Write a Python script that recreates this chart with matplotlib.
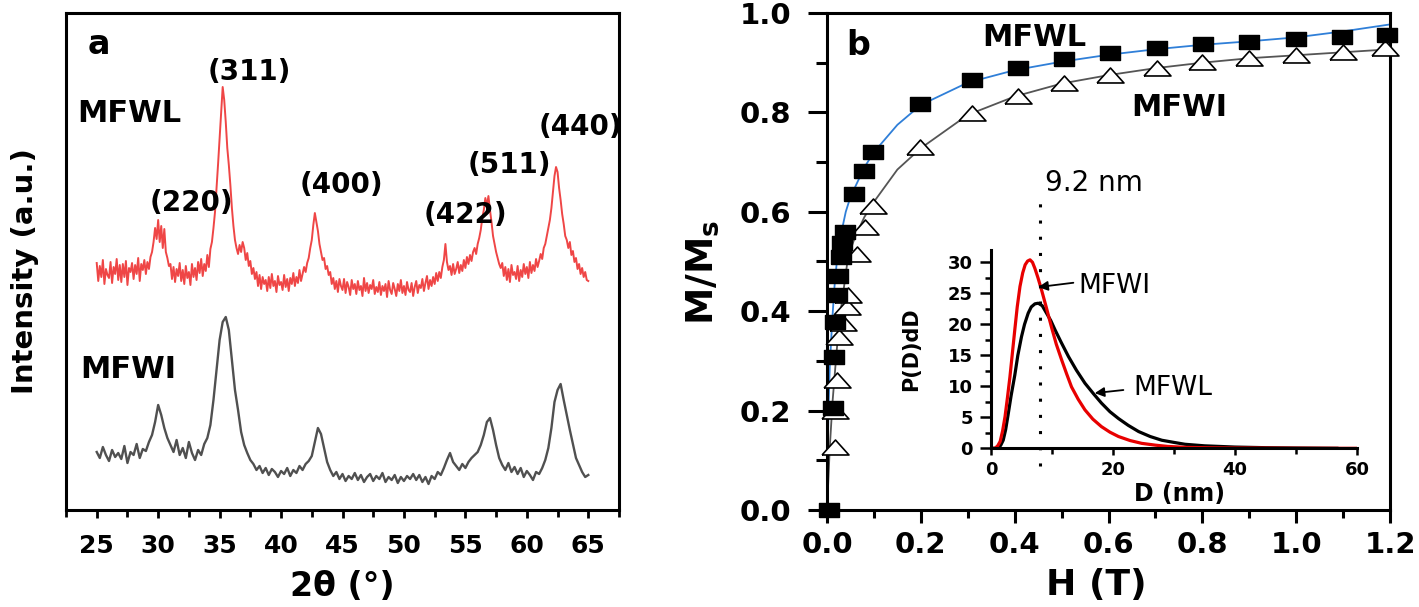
import numpy as np
import matplotlib
matplotlib.use("Agg")
import matplotlib.pyplot as plt
from matplotlib.ticker import MultipleLocator, FormatStrFormatter

plt.rcParams["font.family"] = ["DejaVu Sans"]
plt.rcParams["font.weight"] = "bold"

# ---- panel a: XRD patterns, 25..65 deg ----
two_theta_L = np.arange(25, 65.001, 0.125)   # MFWL sampling
two_theta_I = np.arange(25, 65.001, 0.25)    # MFWI sampling

# MFWL, one row per degree (8 steps of 0.125)
mfwl = [
    247, 229, 244, 233, 250, 226, 241, 235,  # 25
    232, 248, 227, 243, 236, 251, 230, 245,  # 26
    228, 246, 233, 249, 225, 242, 238, 247,  # 27
    231, 245, 236, 252, 229, 246, 240, 250,  # 28
    236, 248, 241, 253, 258, 268, 282, 271,  # 29
    290, 268, 284, 262, 281, 258, 252, 244,  # 30
    246, 231, 243, 228, 241, 234, 247, 229,  # 31
    240, 226, 244, 232, 238, 225, 246, 233,  # 32
    242, 230, 248, 237, 251, 234, 246, 239,  # 33
    255, 243, 261, 268, 282, 298, 322, 346,  # 34
    372, 398, 423, 410, 388, 362, 345, 325,  # 35
    302, 284, 270, 262, 256, 265, 258, 268,  # 36
    262, 250, 257, 244, 249, 236, 242, 231,  # 37
    238, 224, 235, 221, 233, 226, 230, 219,  # 38
    233, 222, 236, 224, 229, 218, 234, 225,  # 39
    228, 220, 235, 223, 231, 219, 232, 226,  # 40
    237, 224, 233, 227, 240, 229, 236, 243,  # 41
    238, 247, 252, 262, 270, 285, 297, 288,  # 42
    279, 266, 258, 250, 252, 241, 244, 235,  # 43
    238, 226, 232, 221, 229, 218, 231, 224,  # 44
    220, 231, 217, 228, 223, 215, 230, 221,  # 45
    226, 216, 229, 220, 224, 214, 232, 219,  # 46
    227, 217, 225, 221, 230, 216, 223, 218,  # 47
    228, 215, 224, 219, 226, 213, 229, 220,  # 48
    216, 227, 221, 214, 226, 219, 230, 217,  # 49
    224, 215, 228, 220, 218, 227, 214, 223,  # 50
    229, 217, 225, 222, 231, 219, 227, 234,  # 51
    221, 230, 224, 233, 226, 237, 229, 238,  # 52
    232, 243, 250, 266, 248, 240, 244, 235,  # 53
    246, 236, 241, 248, 237, 245, 239, 250,  # 54
    242, 253, 246, 255, 249, 258, 262, 256,  # 55
    266, 272, 280, 292, 300, 312, 304, 314,  # 56
    300, 288, 274, 266, 258, 252, 246, 242,  # 57
    247, 234, 243, 230, 241, 228, 245, 235,  # 58
    238, 231, 244, 229, 240, 233, 246, 236,  # 59
    243, 232, 248, 237, 245, 239, 251, 243,  # 60
    249, 256, 251, 262, 266, 274, 282, 290,  # 61
    302, 318, 334, 343, 338, 322, 310, 296,  # 62
    286, 274, 270, 262, 268, 255, 259, 248,  # 63
    252, 241, 246, 236, 242, 233, 238, 230,  # 64
    229,                                     # 65
]

# MFWI, one row per degree (4 steps of 0.25)
mfwi = [
    58, 52, 63, 55,      # 25
    49, 60, 53, 57,      # 26
    51, 64, 47, 58,      # 27
    55, 66, 52, 61,      # 28
    59, 68, 75, 88,      # 29
    105, 95, 82, 72,     # 30
    65, 58, 70, 55,      # 31
    62, 52, 68, 57,      # 32
    50, 60, 55, 66,      # 33
    72, 85, 110, 140,    # 34
    170, 188, 193, 180,  # 35
    150, 120, 100, 78,   # 36
    65, 57, 50, 46,      # 37
    40, 44, 37, 42,      # 38
    35, 41, 38, 33,      # 39
    39, 36, 42, 34,      # 40
    40, 37, 44, 40,      # 41
    46, 49, 54, 68,      # 42
    82, 76, 62, 48,      # 43
    40, 34, 38, 31,      # 44
    36, 29, 34, 31,      # 45
    37, 30, 35, 28,      # 46
    33, 36, 29, 34,      # 47
    31, 37, 28, 33,      # 48
    30, 35, 27, 33,      # 49
    29, 34, 31, 36,      # 50
    30, 35, 28, 33,      # 51
    26, 34, 31, 38,      # 52
    35, 42, 50, 57,      # 53
    48, 44, 40, 46,      # 54
    42, 48, 52, 55,      # 55
    58, 65, 75, 88,      # 56
    92, 80, 65, 52,      # 57
    45, 40, 47, 38,      # 58
    43, 36, 42, 33,      # 59
    39, 35, 30, 38,      # 60
    36, 42, 50, 62,      # 61
    82, 108, 120, 126,   # 62
    110, 95, 80, 66,     # 63
    52, 45, 38, 33,      # 64
    35,                  # 65
]

peak_labels = ["(220)", "(311)", "(400)", "(422)", "(511)", "(440)"]
peak_label_x = [32.7, 37.4, 44.9, 55.0, 58.6, 64.35]
peak_label_y = [307, 438, 325, 295, 345, 383]

# ---- panel b: M/Ms vs H ----
H_L = [0.005, 0.0135, 0.015, 0.017, 0.021, 0.024, 0.030, 0.033, 0.038, 0.058,
       0.078, 0.098, 0.199, 0.308, 0.408, 0.505, 0.603, 0.703, 0.802, 0.90,
       0.999, 1.098, 1.193]
M_L = [0.0, 0.205, 0.308, 0.379, 0.433, 0.471, 0.51, 0.537, 0.56, 0.636,
       0.683, 0.72, 0.817, 0.865, 0.889, 0.907, 0.92, 0.93, 0.938, 0.942,
       0.947, 0.952, 0.956]
H_I = [0.017, 0.016, 0.021, 0.026, 0.035, 0.042, 0.044, 0.063, 0.081, 0.099,
       0.199, 0.308, 0.408, 0.505, 0.603, 0.703, 0.80, 0.90, 1.0, 1.1, 1.19]
M_I = [0.127, 0.2, 0.262, 0.349, 0.377, 0.409, 0.433, 0.515, 0.57, 0.612,
       0.731, 0.798, 0.832, 0.859, 0.875, 0.889, 0.902, 0.909, 0.915, 0.922,
       0.929]

fit_L_H = [0, 0.003, 0.006, 0.011, 0.016, 0.022, 0.031, 0.04, 0.05, 0.067,
           0.08, 0.1, 0.15, 0.2, 0.3, 0.4, 0.5, 0.6, 0.7, 0.8, 0.9, 1.0, 1.1, 1.2]
fit_L_M = [0, 0.2, 0.29, 0.38, 0.45, 0.51, 0.56, 0.6, 0.63, 0.664,
           0.69, 0.72, 0.775, 0.815, 0.86, 0.885, 0.902, 0.916, 0.927, 0.936,
           0.943, 0.951, 0.963, 0.977]
fit_I_H = [0, 0.006, 0.012, 0.018, 0.026, 0.035, 0.045, 0.06, 0.08, 0.1, 0.15,
           0.2, 0.3, 0.4, 0.5, 0.6, 0.7, 0.8, 0.9, 1.0, 1.1, 1.2]
fit_I_M = [0, 0.127, 0.22, 0.29, 0.38, 0.44, 0.51, 0.55, 0.59, 0.62, 0.685,
           0.728, 0.795, 0.832, 0.858, 0.875, 0.889, 0.9, 0.909, 0.915, 0.921,
           0.927]

# ---- inset: size distributions ----
D_L = [0, 1.2, 1.6, 2.0, 2.4, 2.8, 3.3, 3.9, 4.4, 5.0, 5.5, 6.1, 6.6, 7.2,
       7.75, 8.4, 9.1, 9.8, 10.5, 11.5, 12.7, 14.0, 15.4, 16.8, 18.1, 19.5,
       20.9, 22.5, 24.2, 26.1, 28, 30, 31.8, 35, 40, 45, 50, 56.7]
P_L = [0, 0, 0.5, 1.3, 3.0, 5.4, 8.5, 11.8, 15.0, 18.0, 20.0, 21.8, 22.8, 23.3,
       23.4, 23.0, 21.8, 20.6, 19.1, 17.1, 14.8, 12.6, 10.5, 8.8, 7.3, 5.9,
       4.8, 3.7, 2.7, 1.9, 1.3, 0.95, 0.65, 0.4, 0.2, 0.1, 0.05, 0.0]
D_I = [0, 0.66, 1.1, 1.5, 1.9, 2.3, 2.7, 3.1, 3.5, 3.9, 4.3, 4.75, 5.2, 5.6,
       6.0, 6.4, 6.8, 7.2, 7.7, 8.3, 9.1, 9.9, 10.7, 11.6, 12.4, 13.2, 14.3,
       15.4, 16.7, 18.1, 19.5, 20.9, 22.8, 24.7, 27, 29, 32, 36, 40, 50, 60.5]
P_I = [0, 0, 0.4, 1.1, 2.8, 5.1, 8.2, 11.5, 15.3, 19.1, 22.8, 26.1, 28.3, 29.6,
       30.2, 30.4, 30.0, 29.0, 27.5, 25.5, 22.6, 19.6, 16.8, 14.2, 12.0, 9.9,
       7.9, 6.2, 4.7, 3.5, 2.6, 1.9, 1.25, 0.8, 0.5, 0.3, 0.15, 0.08, 0.04,
       0.01, 0]
mode_D = 8.1

W, Hpx = 1419, 607


def box(l, t, r, b):
    return [l / W, 1 - b / Hpx, (r - l) / W, (b - t) / Hpx]


fig = plt.figure(figsize=(W / 100, Hpx / 100), dpi=100)

# panel a
ax_a = fig.add_axes(box(66, 13, 619, 510))
ax_a.plot(two_theta_L, mfwl, color="#ef4646", lw=1.4)
ax_a.plot(two_theta_I, mfwi, color="#505050", lw=1.7)
ax_a.set_xlim(22.5, 67.5)
ax_a.set_ylim(0, 497)
ax_a.set_yticks([])
ax_a.xaxis.set_major_locator(MultipleLocator(5))
ax_a.xaxis.set_minor_locator(MultipleLocator(2.5))
ax_a.tick_params(axis="x", which="both", direction="out", width=2, labelsize=18, pad=11)
ax_a.tick_params(axis="x", which="major", length=6)
ax_a.tick_params(axis="x", which="minor", length=5)
for sp in ax_a.spines.values():
    sp.set_linewidth(2.2)

ax_a.text(25.2, 466, "a", fontsize=24, ha="center", va="center")
ax_a.text(23.45, 397, "MFWL", fontsize=22, ha="left", va="center")
ax_a.text(23.7, 140, "MFWI", fontsize=22, ha="left", va="center")
for lab, x, y in zip(peak_labels, peak_label_x, peak_label_y):
    ax_a.text(x, y, lab, fontsize=20, ha="center", va="center")

fig.text(25 / W, 1 - 271 / Hpx, "Intensity (a.u.)", rotation=90, fontsize=21,
         ha="center", va="center")
fig.text(342 / W, 1 - 587 / Hpx, "2θ (°)", fontsize=24, ha="center", va="center")

# panel b
ax_b = fig.add_axes(box(827, 13, 1390, 510))
ax_b.plot(fit_L_H, fit_L_M, color="#2f7fd8", lw=1.3, zorder=2)
ax_b.plot(fit_I_H, fit_I_M, color="#555555", lw=1.3, zorder=2)
square = [(-1.5, -1), (1.5, -1), (1.5, 1), (-1.5, 1), (-1.5, -1)]
triangle = [(-1.8, -1), (1.8, -1), (0, 1), (-1.8, -1)]
ax_b.plot(H_I, M_I, ls="none", marker=triangle, ms=19.4, mfc="white", mec="k",
          mew=1.2, clip_on=False, zorder=3)
ax_b.plot(H_L, M_L, ls="none", marker=square, ms=14.4, mfc="k", mec="k",
          clip_on=False, zorder=4)
ax_b.set_xlim(0, 1.2)
ax_b.set_ylim(0, 1.0)
ax_b.xaxis.set_major_locator(MultipleLocator(0.2))
ax_b.xaxis.set_minor_locator(MultipleLocator(0.1))
ax_b.yaxis.set_major_locator(MultipleLocator(0.2))
ax_b.yaxis.set_minor_locator(MultipleLocator(0.1))
ax_b.xaxis.set_major_formatter(FormatStrFormatter("%.1f"))
ax_b.yaxis.set_major_formatter(FormatStrFormatter("%.1f"))
ax_b.tick_params(which="both", direction="out", width=2.2, labelsize=21)
ax_b.tick_params(axis="x", which="major", length=9, pad=6)
ax_b.tick_params(axis="x", which="minor", length=6)
ax_b.tick_params(axis="y", which="major", length=14, pad=12)
ax_b.tick_params(axis="y", which="minor", length=8)
for sp in ax_b.spines.values():
    sp.set_linewidth(2.2)

ax_b.text(0.067, 0.935, "b", fontsize=24, ha="center", va="center")
ax_b.text(0.442, 0.95, "MFWL", fontsize=22, ha="center", va="center")
ax_b.text(0.75, 0.81, "MFWI", fontsize=22, ha="center", va="center")
ax_b.text(0.570, 0.658, "9.2 nm", fontsize=20, fontweight="normal",
          ha="center", va="center")

fig.text(703 / W, 1 - 272 / Hpx, r"$\mathbf{M/M_s}$", rotation=90, fontsize=27,
         ha="center", va="center")
fig.text(1096 / W, 1 - 585 / Hpx, "H (T)", fontsize=26, ha="center", va="center")

# inset
ax_in = fig.add_axes(box(991, 249.9, 1357, 448.3))
ax_in.plot(D_L, P_L, color="k", lw=2.3)
ax_in.plot(D_I, P_I, color="#e80000", lw=2.3)
ax_in.plot([mode_D, mode_D], [-2.8, 40.3], color="k", lw=2.2,
           ls=(0, (1, 4.3)), clip_on=False)
ax_in.set_xlim(0, 60)
ax_in.set_ylim(0, 32)
ax_in.spines["top"].set_visible(False)
ax_in.spines["right"].set_visible(False)
for sp in ("left", "bottom"):
    ax_in.spines[sp].set_linewidth(2.2)
ax_in.xaxis.set_major_locator(MultipleLocator(20))
ax_in.xaxis.set_minor_locator(MultipleLocator(10))
ax_in.yaxis.set_major_locator(MultipleLocator(5))
ax_in.yaxis.set_minor_locator(MultipleLocator(2.5))
ax_in.tick_params(which="both", direction="out", width=1.8, labelsize=13)
ax_in.tick_params(axis="y", which="major", length=8, pad=5)
ax_in.tick_params(axis="y", which="minor", length=4)
ax_in.tick_params(axis="x", which="major", length=5, pad=4)
ax_in.tick_params(axis="x", which="minor", length=4)
ax_in.text(-0.219, 0.5, "P(D)dD", transform=ax_in.transAxes, rotation=90,
           fontsize=15, ha="center", va="center")
ax_in.text(0.514, -0.23, "D (nm)", transform=ax_in.transAxes, fontsize=17,
           ha="center", va="center")

arrow = dict(arrowstyle="-|>", color="k", lw=1.3, mutation_scale=14,
             shrinkA=0, shrinkB=0)
ax_in.annotate("", xy=(7.75, 26.0), xytext=(13.5, 26.7), arrowprops=arrow)
ax_in.text(14.3, 26.1, "MFWI", fontsize=19, fontweight="normal",
           ha="left", va="center")
ax_in.annotate("", xy=(17.0, 8.9), xytext=(21.7, 9.4), arrowprops=arrow)
ax_in.text(23.3, 9.7, "MFWL", fontsize=19, fontweight="normal",
           ha="left", va="center")

fig.savefig("out.png", dpi=100)
